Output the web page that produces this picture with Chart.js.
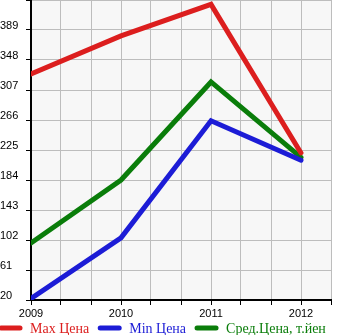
<!DOCTYPE html>
<html>
<head>
<meta charset="utf-8">
<script src="https://cdn.jsdelivr.net/npm/chart.js@4/dist/chart.umd.min.js"></script>
<style>
  body { margin: 0; background: #fff; }
  #priceChart { display: block; }
</style>
</head>
<body>
<canvas id="priceChart" width="345" height="335"></canvas>
<script>
// Price history by year
const years = [2009, 2010, 2011, 2012];
const maxPrice = [329, 381, 424, 221];
const minPrice = [22, 105, 265, 211];
const avgPrice = [98, 184, 318, 215];
const seriesNames = ['Max Цена', 'Min Цена', 'Сред.Цена, т.йен'];
const seriesColors = ['#dc1e1e', '#1c1cd6', '#0a7d0a'];

function toPoints(values) {
    return years.map((year, i) => ({ x: year, y: values[i] }));
}

// grey background behind the plot area
const plotBackground = {
    id: 'plotBackground',
    beforeDraw(chart) {
        const { ctx, chartArea } = chart;
        ctx.save();
        ctx.fillStyle = '#f7f7f7';
        ctx.fillRect(chartArea.left, chartArea.top, chartArea.right - chartArea.left, chartArea.bottom - chartArea.top);
        ctx.restore();
    }
};

// legend row under the axis: thick line sample + coloured serif text
const lineLegend = {
    id: 'lineLegend',
    afterDraw(chart) {
        const ctx = chart.ctx;
        const y = 328;
        let x = -1;
        ctx.save();
        ctx.font = '14px "Liberation Serif", "Times New Roman", serif';
        ctx.textBaseline = 'middle';
        chart.data.datasets.forEach(ds => {
            ctx.strokeStyle = ds.borderColor;
            ctx.lineWidth = 5;
            ctx.lineCap = 'round';
            ctx.beginPath();
            ctx.moveTo(x + 2, y);
            ctx.lineTo(x + 21, y);
            ctx.stroke();
            ctx.fillStyle = ds.borderColor;
            ctx.fillText(ds.label, x + 31, y + 1);
            x += 31 + ctx.measureText(ds.label).width + 9;
        });
        ctx.restore();
    }
};

const datasets = [maxPrice, minPrice, avgPrice].map((values, i) => ({
    label: seriesNames[i],
    data: toPoints(values),
    borderColor: seriesColors[i],
    backgroundColor: seriesColors[i],
    borderWidth: 5,
    borderCapStyle: 'round',
    borderJoinStyle: 'miter',
    pointRadius: 0,
    tension: 0,
    fill: false
}));

const tickFont = { family: 'Liberation Sans', size: 11 };

new Chart(document.getElementById('priceChart'), {
    type: 'line',
    data: { datasets: datasets },
    options: {
        responsive: false,
        animation: false,
        devicePixelRatio: 1,
        layout: { padding: { top: 0, right: 14, left: 0, bottom: 0 } },
        plugins: {
            legend: { display: false },
            tooltip: { enabled: false }
        },
        scales: {
            x: {
                type: 'linear',
                min: 2009,
                max: 2009 + 10 / 3,
                afterBuildTicks(scale) {
                    scale.ticks = Array.from({ length: 11 }, (_, i) => ({ value: 2009 + i / 3 }));
                },
                afterFit(scale) {
                    scale.height = 35;
                    scale.paddingLeft = 0;
                    scale.paddingRight = 0;
                },
                grid: { color: '#bdbdbd', lineWidth: 1, tickLength: 5, tickColor: '#000' },
                border: { color: '#000', width: 2 },
                ticks: {
                    autoSkip: false,
                    maxRotation: 0,
                    padding: 2,
                    color: '#000',
                    font: tickFont,
                    callback: v => Math.abs(v - Math.round(v)) < 1e-6 ? String(Math.round(v)) : ''
                }
            },
            y: {
                min: 20,
                max: 430,
                afterFit(scale) {
                    scale.width = 31;
                    scale.paddingTop = 0;
                    scale.paddingBottom = 0;
                },
                grid: { color: '#bdbdbd', lineWidth: 1, tickLength: 5, tickColor: '#000' },
                border: { color: '#000', width: 2 },
                ticks: {
                    stepSize: 41,
                    padding: 1,
                    crossAlign: 'far',
                    labelOffset: -4,
                    color: '#000',
                    font: tickFont,
                    callback: v => v >= 430 ? '' : String(Math.round(v))
                }
            }
        }
    },
    plugins: [plotBackground, lineLegend]
});
</script>
</body>
</html>
